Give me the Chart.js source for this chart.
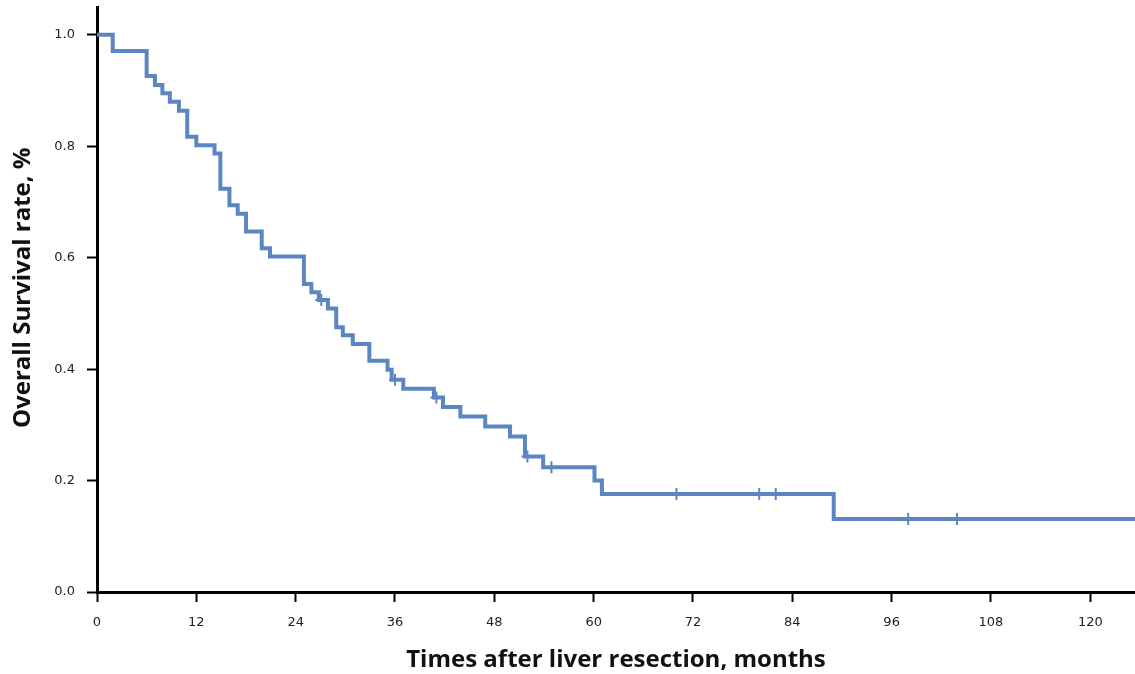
<!DOCTYPE html>
<html>
<head>
<meta charset="utf-8">
<script src="https://cdn.jsdelivr.net/npm/chart.js@4/dist/chart.umd.min.js"></script>
<style>
html,body{margin:0;padding:0;background:#fff;}
#wrap{width:1135px;height:674px;position:relative;}
</style>
</head>
<body>
<div id="wrap"><canvas id="c"></canvas></div>
<script>
// Kaplan-Meier step data: event times (months) and survival after each step
const stepTimes = [0, 1.9, 6.0, 7.0, 7.9, 8.8, 9.9, 10.9, 12.0, 14.2, 14.9, 16.0, 17.0, 18.0, 19.9, 20.9, 25.0, 25.9, 26.8, 27.9, 28.9, 29.7, 30.9, 32.9, 35.1, 35.6, 37.0, 40.7, 41.8, 43.9, 46.9, 49.9, 51.7, 53.9, 60.1, 61.0, 89.0, 125.4];
const survival  = [1.0, 0.971, 0.926, 0.910, 0.895, 0.880, 0.864, 0.817, 0.802, 0.787, 0.724, 0.694, 0.679, 0.647, 0.617, 0.602, 0.553, 0.538, 0.524, 0.509, 0.475, 0.461, 0.445, 0.415, 0.399, 0.381, 0.365, 0.349, 0.332, 0.315, 0.297, 0.279, 0.243, 0.224, 0.200, 0.176, 0.131, 0.131];
// Censored observations
const censorTimes = [27.1, 36.0, 41.0, 52.0, 54.9, 70.0, 80.0, 82.0, 98.0, 103.9];
const censorSurv  = [0.524, 0.381, 0.349, 0.243, 0.224, 0.176, 0.176, 0.176, 0.131, 0.131];
// Axis ticks
const xTickValues = [0, 12, 24, 36, 48, 60, 72, 84, 96, 108, 120];
const yTickValues = [0.0, 0.2, 0.4, 0.6, 0.8, 1.0];
const xTitle = 'Times after liver resection, months';
const yTitle = 'Overall Survival rate, %';

const lineColor = '#5b86c2';
const curve = stepTimes.map((t, i) => ({x: t, y: survival[i]}));
const censors = censorTimes.map((t, i) => ({x: t, y: censorSurv[i]}));

// y-axis title drawn beside the axis (placed slightly above centre as in the reference)
const yTitlePlugin = {
  id: 'yTitle',
  afterDraw(chart) {
    const ctx = chart.ctx;
    const y = chart.scales.y;
    ctx.save();
    ctx.translate(23, y.getPixelForValue(0.546));
    ctx.rotate(-Math.PI / 2);
    ctx.font = 'bold 24px "Open Sans"';
    ctx.fillStyle = '#111';
    ctx.textAlign = 'center';
    ctx.textBaseline = 'middle';
    ctx.fillText(yTitle, 0, 0);
    ctx.restore();
  }
};

new Chart(document.getElementById('c'), {
  type: 'line',
  data: {
    datasets: [
      {data: curve, stepped: 'before', borderColor: lineColor, borderWidth: 4, pointRadius: 0, fill: false, borderJoinStyle: 'miter', borderCapStyle: 'butt'},
      {data: censors, showLine: false, pointStyle: 'cross', pointRadius: 6, pointBorderWidth: 2, pointBorderColor: lineColor, pointBackgroundColor: lineColor}
    ]
  },
  plugins: [yTitlePlugin],
  options: {
    responsive: true,
    maintainAspectRatio: false,
    animation: false,
    layout: {autoPadding: false, padding: {top: 7, right: 0, left: 0, bottom: 0}},
    plugins: {legend: {display: false}, tooltip: {enabled: false}},
    scales: {
      x: {
        type: 'linear', min: 0, max: 125.4,
        afterBuildTicks: s => { s.ticks = xTickValues.map(v => ({value: v})); },
        afterFit: s => { s.height = 82; s.paddingLeft = 0; s.paddingRight = 0; },
        grid: {drawOnChartArea: false, drawTicks: true, tickLength: 10, tickColor: '#000', tickWidth: 2},
        border: {display: true, color: '#000', width: 3},
        ticks: {color: '#222', font: {family: 'DejaVu Sans', size: 13}, padding: 13, maxRotation: 0, autoSkip: false},
        title: {display: true, text: xTitle, color: '#111', font: {family: 'Open Sans', size: 24, weight: 'bold'}, padding: {top: 0, bottom: -1}}
      },
      y: {
        type: 'linear', min: 0, max: 1.05,
        afterBuildTicks: s => { s.ticks = yTickValues.map(v => ({value: v})); },
        afterFit: s => { s.width = 97; s.paddingTop = 0; s.paddingBottom = 0; },
        grid: {drawOnChartArea: false, drawTicks: true, tickLength: 10, tickColor: '#000', tickWidth: 2},
        border: {display: true, color: '#000', width: 3},
        ticks: {color: '#222', font: {family: 'DejaVu Sans', size: 13}, padding: 12, callback: v => Number(v).toFixed(1)},
        title: {display: false}
      }
    }
  }
});
</script>
</body>
</html>
